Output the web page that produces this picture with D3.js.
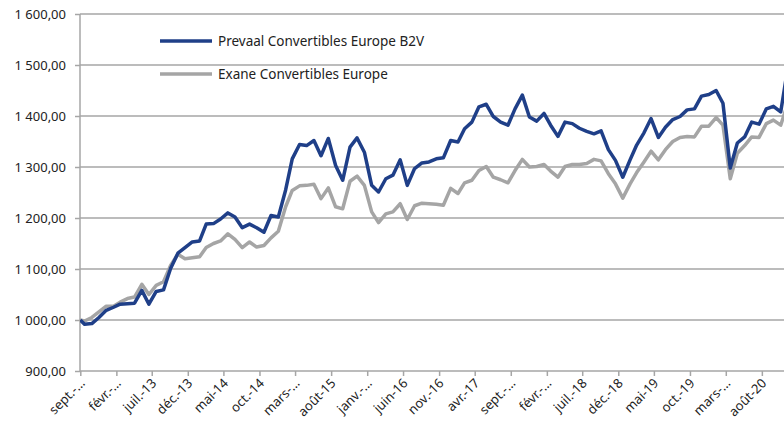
<!DOCTYPE html>
<html><head><meta charset="utf-8">
<script src="https://cdn.jsdelivr.net/npm/d3@7"></script>
<style>
html,body{margin:0;padding:0;background:#fff;}
svg{display:block;font-family:"Noto Sans",sans-serif;}
</style></head>
<body><svg id="c" width="784" height="428"></svg>
<script>
// Series names
const seriesNames = ["Prevaal Convertibles Europe B2V", "Exane Convertibles Europe"];
// Values: launch (12 Sept 2012) then month-end values Sept 2012 .. Nov 2020
const prevaal = [1000, 991.5, 993, 1005, 1019, 1025, 1031, 1032, 1033, 1058,
  1031, 1056, 1059, 1101, 1131, 1142, 1153, 1155, 1188, 1189,
  1198, 1210, 1202, 1181, 1188, 1181, 1172, 1205, 1202, 1255,
  1316, 1344, 1342, 1352, 1322, 1356, 1303, 1274, 1339, 1357,
  1329, 1264, 1251, 1277, 1284, 1314, 1264, 1297, 1308, 1310,
  1316, 1318, 1352, 1349, 1375, 1388, 1418, 1423, 1399, 1388,
  1382, 1414, 1441, 1398, 1390, 1405, 1382, 1360, 1388, 1385,
  1376, 1370, 1365, 1371, 1334, 1313, 1280, 1314, 1343, 1367,
  1395, 1358, 1378, 1393, 1399, 1412, 1414, 1439, 1442, 1450,
  1425, 1298, 1347, 1359, 1388, 1384, 1414, 1419, 1408, 1495];
const exane = [1000, 998, 1005, 1016, 1027, 1027, 1035, 1042, 1045, 1070,
  1050, 1068, 1075, 1107, 1129, 1120, 1122, 1124, 1142, 1150,
  1155, 1169, 1158, 1142, 1153, 1143, 1146, 1161, 1174, 1222,
  1254, 1263, 1264, 1266, 1238, 1259, 1222, 1218, 1272, 1282,
  1264, 1212, 1191, 1208, 1212, 1228, 1197, 1224, 1229, 1228,
  1227, 1225, 1258, 1248, 1269, 1274, 1293, 1301, 1280, 1275,
  1269, 1293, 1315, 1300, 1301, 1305, 1292, 1280, 1301, 1305,
  1305, 1307, 1315, 1312, 1287, 1267, 1239, 1267, 1289, 1310,
  1331, 1314, 1334, 1350, 1358, 1360, 1359, 1380, 1380, 1397,
  1382, 1277, 1327, 1342, 1359, 1358, 1385, 1392, 1382, 1425];
// Category axis tick labels (every 5 months from the start date)
const xTickLabels = ["sept.-…","févr.-…","juil.-13","déc.-13","mai-14","oct.-14","mars-…","août-15","janv.-…","juin-16",
  "nov.-16","avr.-17","sept.-…","févr.-…","juil.-18","déc.-18","mai-19","oct.-19","mars-…","août-20"];
const yTickValues = [900, 1000, 1100, 1200, 1300, 1400, 1500, 1600];
const yTickLabels = ["900,00","1 000,00","1 100,00","1 200,00","1 300,00","1 400,00","1 500,00","1 600,00"];

const startDate = new Date(2012, 8, 12);
const monthStarts = d3.timeMonth.range(new Date(2012, 8, 1), new Date(2020, 11, 1));
const dates = [startDate].concat(monthStarts.map(m => d3.timeDay.offset(d3.timeMonth.offset(m, 1), -1)));
const tickDates = xTickLabels.map((_, i) => d3.timeMonth.offset(startDate, 5 * i));

const L = 80, R = 784, T = 14, B = 371;
const svg = d3.select("#c");

const x = d3.scaleTime().domain([startDate, d3.timeMonth.offset(startDate, 98)]).range([L + 0.3, L + 0.3 + 98 * 7.176]);
const y = d3.scaleLinear().domain([900, 1600]).range([B, T]);

const gridCol = "#a6a6a6";

// gridlines
svg.append("g").selectAll("line").data(yTickValues.slice(1)).join("line")
  .attr("x1", L).attr("x2", R).attr("y1", d => y(d)).attr("y2", d => y(d))
  .attr("stroke", gridCol).attr("stroke-width", 1.5);

// Y axis
const yAxis = svg.append("g").attr("transform", `translate(${L},0)`)
  .call(d3.axisLeft(y).tickValues(yTickValues).tickSize(5).tickPadding(9)
    .tickFormat((d, i) => yTickLabels[i]));
yAxis.select(".domain").attr("stroke", gridCol).attr("stroke-width", 1.5).attr("d", `M0,${T}V${B}`);
yAxis.selectAll(".tick line").attr("stroke", gridCol).attr("stroke-width", 1.5);
yAxis.selectAll("text").attr("font-size", 13).attr("fill", "#222").attr("font-family", "Noto Sans");

// X axis
const xAxis = svg.append("g").attr("transform", `translate(0,${B})`)
  .call(d3.axisBottom(x).tickValues(tickDates).tickSize(5)
    .tickFormat((d, i) => xTickLabels[i]));
xAxis.select(".domain").attr("stroke", gridCol).attr("stroke-width", 1.5).attr("d", `M${L},0H${R}`);
xAxis.selectAll(".tick line").attr("stroke", gridCol).attr("stroke-width", 1.5);
xAxis.selectAll("text").attr("font-size", 13).attr("fill", "#222").attr("font-family", "Noto Sans")
  .attr("text-anchor", "end").attr("dy", null).attr("y", 0)
  .attr("transform", "translate(5,13) rotate(-45)");

// clip to plot area
svg.append("clipPath").attr("id", "pc").append("rect").attr("x", L).attr("y", 0).attr("width", R - L).attr("height", B + 4);

const line = d3.line().x((d, i) => x(dates[i])).y(d => y(d));
const colors = ["#1f3f88", "#a5a5a5"];
const series = [prevaal, exane];
const gLines = svg.append("g").attr("clip-path", "url(#pc)");
[1, 0].forEach(s => {
  gLines.append("path").datum(series[s]).attr("d", line)
    .attr("fill", "none").attr("stroke", colors[s]).attr("stroke-width", 3.5)
    .attr("stroke-linejoin", "round").attr("stroke-linecap", "butt");
});

// legend
const lg = svg.append("g");
[0, 1].forEach(s => {
  const yy = [41, 74][s];
  lg.append("line").attr("x1", 160).attr("x2", 212).attr("y1", yy).attr("y2", yy)
    .attr("stroke", colors[s]).attr("stroke-width", 3.5);
  lg.append("text").attr("x", 218).attr("y", yy + 5).attr("font-size", 13.5)
    .attr("fill", "#222").text(seriesNames[s]);
});
</script></body></html>
